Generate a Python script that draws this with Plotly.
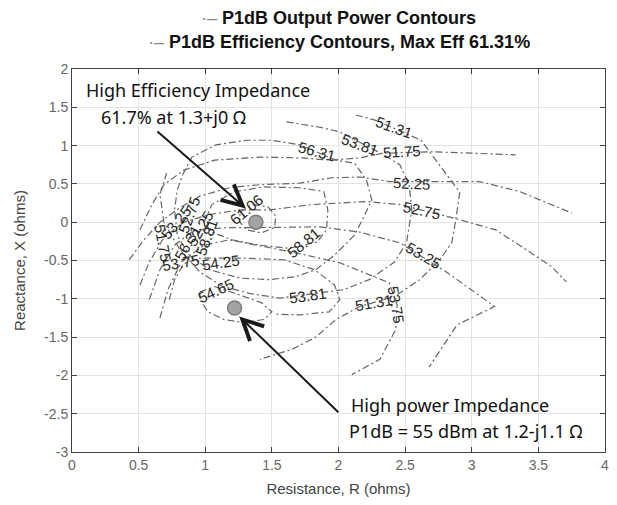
import plotly.graph_objects as go

# ---------------- data (R, X in ohms) ----------------
# efficiency contour lines (label -> list of (R, X) points)
eff_61_06 = [(1.26,0.13),(1.35,0.23),(1.47,0.20),(1.53,0.08),(1.52,-0.07),(1.42,-0.14),(1.31,-0.10),(1.26,0.0),(1.26,0.13)]
eff_58_81 = [(0.99,0.0),(1.05,0.23),(1.22,0.40),(1.44,0.46),(1.71,0.45),(1.89,0.40),(1.92,0.16),(1.91,-0.10),(1.84,-0.26),(1.63,-0.34),(1.41,-0.30),(1.20,-0.23),(1.05,-0.13),(0.99,0.0)]
eff_56_31 = [(0.83,0.62),(0.90,0.85),(1.08,1.01),(1.31,1.07),(1.50,1.07),(1.71,1.01),(1.98,0.81),(2.12,0.77),(2.21,0.55),(2.25,0.29),(2.19,0.07),(2.12,-0.17),(1.97,-0.43),(1.83,-0.62),(1.68,-0.71),(1.48,-0.75),(1.26,-0.73),(1.03,-0.62),(0.88,-0.43),(0.79,-0.17),(0.77,0.16),(0.79,0.42),(0.83,0.62)]
eff_53_81 = [(1.61,1.31),(1.86,1.24),(2.01,1.18),(2.34,0.88),(2.46,0.75),(2.53,0.49),(2.55,0.16),(2.51,-0.27),(2.42,-0.52),(2.23,-0.75),(2.04,-0.88),(1.56,-0.99),(1.33,-0.93),(1.12,-0.83),(0.96,-0.65),(0.81,-0.36),(0.69,0.0),(0.66,0.36),(0.71,0.64)]
eff_51_31 = [(2.13,1.40),(2.28,1.33),(2.62,1.07),(2.79,0.68),(2.91,0.39),(2.88,0.03),(2.85,-0.27),(2.76,-0.49),(2.61,-0.75),(2.42,-0.97),(2.16,-1.10),(1.98,-1.27),(1.83,-1.50),(1.65,-1.66),(1.41,-1.79)]

# output power contour lines
pow_54_65 = [(0.96,-0.91),(1.07,-0.84),(1.26,-0.95),(1.42,-1.05),(1.50,-1.17),(1.44,-1.27),(1.29,-1.31),(1.14,-1.27),(1.02,-1.17),(0.96,-1.01),(0.96,-0.91)]
pow_54_25 = [(0.73,-1.01),(0.77,-0.75),(0.84,-0.54),(0.96,-0.47),(1.29,-0.47),(1.59,-0.49),(1.82,-0.62),(1.97,-0.82),(2.01,-1.01),(1.93,-1.17),(1.71,-1.21),(1.52,-1.20)]
pow_53_75 = [(0.66,-1.25),(0.72,-0.88),(0.82,-0.52),(0.99,-0.30),(1.18,-0.23),(1.68,-0.40),(2.01,-0.53),(2.38,-0.79),(2.44,-1.08),(2.43,-1.40),(2.31,-1.79),(2.21,-1.89),(2.10,-1.99)]
pow_53_25 = [(0.58,-1.01),(0.66,-0.62),(0.77,-0.30),(0.92,-0.10),(1.18,-0.07),(1.41,-0.07),(1.86,-0.06),(2.16,-0.13),(2.46,-0.27),(2.81,-0.65),(3.17,-1.10),(2.89,-1.34),(2.68,-1.89)]
pow_52_75 = [(0.51,-0.82),(0.58,-0.52),(0.69,-0.20),(0.84,0.0),(1.03,0.10),(1.26,0.16),(1.48,0.16),(1.80,0.23),(2.21,0.27),(2.46,0.23),(2.85,0.06),(3.18,-0.10),(3.41,-0.36),(3.60,-0.58),(3.71,-0.78)]
pow_52_25 = [(0.43,-0.49),(0.54,-0.23),(0.66,0.0),(0.81,0.19),(0.96,0.34),(1.18,0.45),(1.41,0.49),(1.71,0.51),(1.95,0.58),(2.16,0.59),(2.38,0.53),(2.73,0.53),(3.06,0.53),(3.36,0.40),(3.75,0.12)]
pow_51_75 = [(0.51,-0.10),(0.60,0.23),(0.69,0.49),(0.84,0.68),(1.07,0.81),(1.41,0.85),(1.71,0.84),(1.95,0.81),(2.16,0.84),(2.33,0.90),(2.70,0.92),(3.06,0.90),(3.33,0.88)]

eff_contours = [eff_61_06, eff_58_81, eff_56_31, eff_53_81, eff_51_31]
pow_contours = [pow_54_65, pow_54_25, pow_53_75, pow_53_25, pow_52_75, pow_52_25, pow_51_75]

# contour labels: (text, R, X, angle)
contour_labels = [
    ("61.06", 1.31, 0.16, -40), ("58.81", 1.74, -0.27, -40), ("56.31", 1.84, 0.92, 15),
    ("53.81", 2.16, 1.01, 20), ("51.31", 2.42, 1.23, 20), ("51.75", 2.48, 0.92, -3),
    ("52.25", 2.55, 0.51, 3), ("52.75", 2.63, 0.15, 12), ("53.25", 2.64, -0.43, 30),
    ("53.81", 1.77, -0.96, -8), ("51.31", 2.27, -1.05, -10), ("53.75", 2.43, -1.08, 80),
    ("54.65", 1.08, -0.89, -25), ("54.25", 1.12, -0.52, -8),
    ("53.75", 0.82, -0.52, -10), ("51.75", 0.68, -0.27, 80), ("53.25", 0.78, 0.0, -50),
    ("52.75", 0.88, 0.10, -70), ("52.25", 0.96, -0.08, -60), ("56.31", 0.87, -0.27, -60),
    ("58.81", 1.01, -0.20, -70),
]

best_eff = (1.38, 0.0)
best_pow = (1.22, -1.12)

x_ticks = [0, 0.5, 1, 1.5, 2, 2.5, 3, 3.5, 4]
x_ticktext = ["0", "0.5", "1", "1.5", "2", "2.5", "3", "3.5", "4"]
y_ticks = [-3, -2.5, -2, -1.5, -1, -0.5, 0, 0.5, 1, 1.5, 2]
y_ticktext = ["-3", "-2.5", "-2", "-1.5", "-1", "-0.5", "0", "0.5", "1", "1.5", "2"]

# ---------------- figure ----------------
fig = go.Figure()
line_style = dict(color="#666666", width=1.2, dash="7px,3px,2px,3px")
for c in pow_contours:
    fig.add_trace(go.Scatter(x=[p[0] for p in c], y=[p[1] for p in c], mode="lines",
                             line=line_style, showlegend=False, hoverinfo="skip"))
for c in eff_contours:
    fig.add_trace(go.Scatter(x=[p[0] for p in c], y=[p[1] for p in c], mode="lines",
                             line=line_style, showlegend=False, hoverinfo="skip"))

fig.add_trace(go.Scatter(x=[best_eff[0], best_pow[0]], y=[best_eff[1], best_pow[1]], mode="markers",
                         marker=dict(size=14, color="#a3a3a3", line=dict(color="#7d7d7d", width=1.5)),
                         showlegend=False, hoverinfo="skip"))

for txt, r, x, ang in contour_labels:
    fig.add_annotation(x=r, y=x, text=txt, showarrow=False, textangle=ang,
                       font=dict(family="Liberation Sans", size=15, color="#262626"))

ann_font = dict(family="Noto Sans", size=18, color="#111111")
fig.add_annotation(x=0.09, y=1.72, text="High Efficiency Impedance", showarrow=False,
                   xanchor="left", font=ann_font)
fig.add_annotation(x=0.205, y=1.37, text="61.7% at 1.3+j0 Ω", showarrow=False,
                   xanchor="left", font=ann_font)
fig.add_annotation(x=2.08, y=-2.38, text="High power Impedance", showarrow=False,
                   xanchor="left", font=ann_font)
fig.add_annotation(x=2.065, y=-2.73, text="P1dB = 55 dBm at 1.2-j1.1 Ω", showarrow=False,
                   xanchor="left", font=ann_font)

# arrows
fig.add_annotation(x=1.305, y=0.18, ax=0.63, ay=1.20, axref="x", ayref="y", xref="x", yref="y",
                   text="", showarrow=True, arrowhead=5, arrowsize=2.0, arrowwidth=2, arrowcolor="#1a1a1a")
fig.add_annotation(x=1.255, y=-1.23, ax=2.01, ay=-2.50, axref="x", ayref="y", xref="x", yref="y",
                   text="", showarrow=True, arrowhead=5, arrowsize=2.0, arrowwidth=2, arrowcolor="#1a1a1a")

# legend (centred lines, as in the reference)
leg_font = dict(family="Liberation Sans", size=18, color="#111111")
fig.add_annotation(xref="paper", yref="paper", x=0.5, y=1.0, yshift=51, yanchor="middle", showarrow=False,
                   text="<span style='color:#888'>·–</span> <b>P1dB Output Power Contours</b>", font=leg_font)
fig.add_annotation(xref="paper", yref="paper", x=0.5, y=1.0, yshift=27, yanchor="middle", showarrow=False,
                   text="<span style='color:#888'>·–</span> <b>P1dB Efficiency Contours, Max Eff 61.31%</b>", font=leg_font)

axis_common = dict(showgrid=True, gridcolor="#e3e3e3", gridwidth=1, zeroline=False,
                   showline=True, linecolor="#404040", linewidth=1, mirror="ticks",
                   ticks="inside", ticklen=5, tickcolor="#404040", automargin=False,
                   ticklabeloverflow="allow",
                   tickfont=dict(family="Liberation Sans", size=14, color="#666666"))
fig.update_xaxes(range=[0, 4], tickvals=x_ticks, ticktext=x_ticktext,
                 title=dict(text="Resistance, R (ohms)", font=dict(family="Liberation Sans", size=15, color="#444444"), standoff=12),
                 **axis_common)
fig.update_yaxes(range=[-3, 2], tickvals=y_ticks, ticktext=y_ticktext,
                 title=dict(text="Reactance, X (ohms)", font=dict(family="Liberation Sans", size=15, color="#444444"), standoff=14),
                 **axis_common)

# the page body adds an 8px offset, so the figure is 16px smaller than the window
fig.update_layout(width=601, height=489, margin=dict(l=64, r=4, t=61, b=45),
                  plot_bgcolor="white", paper_bgcolor="white", showlegend=False)

fig.write_html("out.html")
